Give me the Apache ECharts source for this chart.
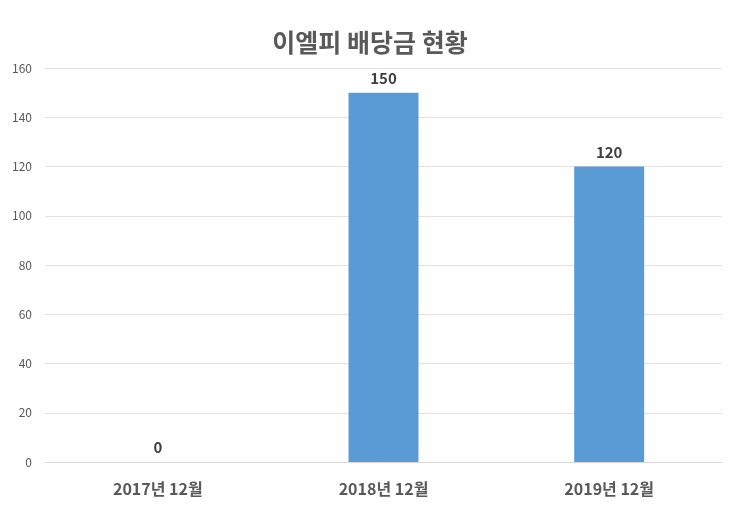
<!DOCTYPE html>
<html><head><meta charset="utf-8">
<script src="https://cdn.jsdelivr.net/npm/echarts@6/dist/echarts.min.js"></script>
<style>html,body{margin:0;padding:0;background:#fff}#c{width:740px;height:516px}</style>
</head><body><div id="c"></div>
<script>
var titleText = '이엘피 배당금 현황';
var categories = ['2017년 12월', '2018년 12월', '2019년 12월'];
var values = [0, 150, 120];
var yTicks = [0, 20, 40, 60, 80, 100, 120, 140, 160];
var FONT = '"Noto Sans CJK KR", "Noto Sans", sans-serif';
var chart = echarts.init(document.getElementById('c'));
chart.setOption({
  animation: false,
  backgroundColor: '#ffffff',
  title: {
    text: titleText, left: 'center', top: 25,
    textStyle: {fontFamily: FONT, fontSize: 25, fontWeight: 'bold', color: '#595959'}
  },
  grid: {left: 45, right: 18, top: 68, bottom: 54},
  xAxis: {
    type: 'category', data: categories,
    axisLine: {show: true, lineStyle: {color: '#d9d9d9', width: 1}},
    axisTick: {show: false},
    axisLabel: {margin: 19, fontFamily: FONT, fontSize: 16, fontWeight: 'bold', color: '#595959'}
  },
  yAxis: {
    type: 'value', min: yTicks[0], max: yTicks[yTicks.length - 1], interval: 20,
    axisLine: {show: false}, axisTick: {show: false},
    axisLabel: {margin: 13, fontFamily: FONT, fontSize: 12, color: '#595959'},
    splitLine: {lineStyle: {color: '#e3e3e3', width: 1}}
  },
  series: [{
    type: 'bar', data: values, barWidth: '31%',
    itemStyle: {color: '#5b9bd5'},
    label: {show: true, position: 'top', distance: 7, fontFamily: FONT, fontSize: 15, fontWeight: 'bold', color: '#404040'}
  }]
});
</script></body></html>
